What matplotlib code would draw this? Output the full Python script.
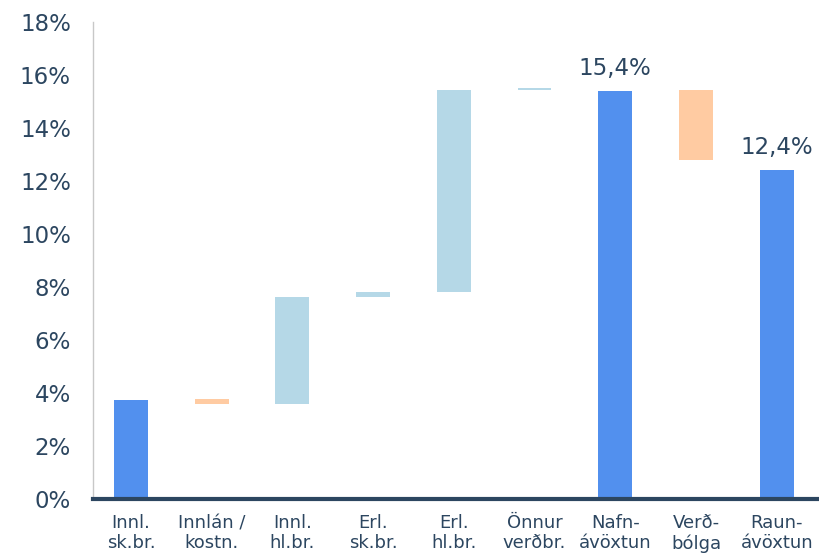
import matplotlib.pyplot as plt
import numpy as np

categories = ['Innl.\nsk.br.', 'Innlán /\nkostn.', 'Innl.\nhl.br.', 'Erl.\nsk.br.', 'Erl.\nhl.br.',
              'Önnur\nverðbr.', 'Nafn-\návöxtun', 'Verð-\nbólga', 'Raun-\návöxtun']
bar_bottom = [0.0, 3.58, 3.58, 7.62, 7.82, 15.43, 0.0, 12.8, 0.0]
bar_top = [3.75, 3.78, 7.62, 7.82, 15.43, 15.5, 15.4, 15.43, 12.4]
kind = ['total', 'neg', 'pos', 'pos', 'pos', 'pos', 'total', 'neg', 'total']
value_labels = {6: '15,4%', 8: '12,4%'}

colors = {'total': '#5290ee', 'pos': '#b5d8e7', 'neg': '#ffcba2'}
text_color = '#2c4660'

fig = plt.figure(figsize=(8.19, 5.57), dpi=100)
ax = fig.add_axes([0.1136, 0.104, 0.885, 0.8565])

x = np.arange(len(categories))
heights = np.array(bar_top) - np.array(bar_bottom)
ax.bar(x, heights, bottom=bar_bottom, width=0.42,
       color=[colors[k] for k in kind], edgecolor='none')

for i, lab in value_labels.items():
    ax.text(x[i], bar_top[i] + 0.42, lab, ha='center', va='bottom',
            fontsize=16.5, color=text_color)

ax.set_ylim(0, 18)
ax.set_xlim(-0.47, 8.51)
ax.set_yticks(np.arange(0, 19, 2))
ax.set_yticklabels([f'{v}%' for v in range(0, 19, 2)])
ax.set_xticks(x)
ax.set_xticklabels(categories, fontsize=13, color=text_color, linespacing=1.12)
ax.tick_params(axis='y', labelsize=16.5, colors=text_color, length=0, pad=16)
ax.tick_params(axis='x', length=0, pad=11)

ax.spines['top'].set_visible(False)
ax.spines['right'].set_visible(False)
ax.spines['left'].set_color('#c8c8c8')
ax.spines['left'].set_linewidth(1)
ax.spines['bottom'].set_color('#2c4660')
ax.spines['bottom'].set_linewidth(3)
ax.grid(False)

fig.savefig('out.png', dpi=100)
